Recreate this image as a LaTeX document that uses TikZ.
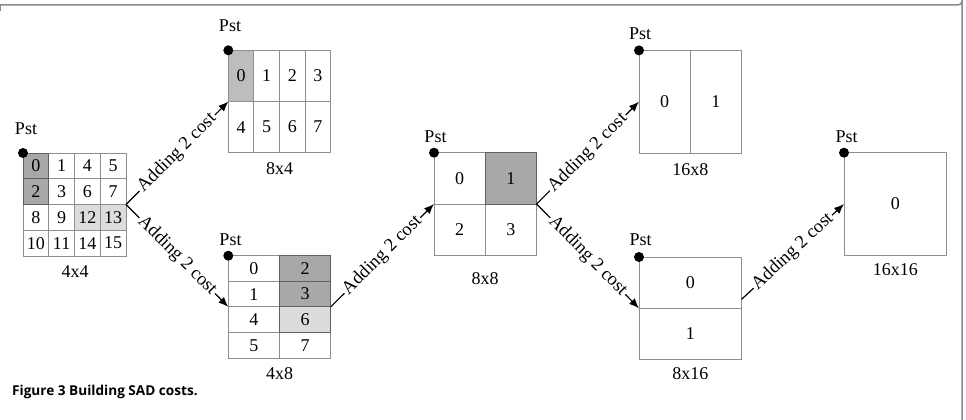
\documentclass[tikz,border=0pt]{standalone}
\usepackage{fontspec}
\setmainfont{Liberation Serif}
\newfontfamily\capfont{Open Sans}
\usetikzlibrary{arrows.meta}
\definecolor{gl}{HTML}{8E8E8E}
\definecolor{dk}{HTML}{A8A8A8}
\definecolor{dkl}{HTML}{BDBDBD}
\definecolor{lt}{HTML}{DCDCDC}
\definecolor{bd}{HTML}{606060}
\definecolor{fr}{HTML}{8A8A8A}
\begin{document}
\begin{tikzpicture}[x=1pt,y=-1pt,font=\fontsize{18}{20}\selectfont,
  cell/.style 2 args={draw=gl,line width=0.9pt,minimum width=#1pt,minimum height=#2pt,inner sep=0pt,outer sep=0pt},
  blk/.style={minimum width=#1pt,minimum height=#1pt,inner sep=0pt,outer sep=0pt},
  shd/.style={fill=#1,draw=bd},
  conn/.style={draw=black,line width=1.2pt,-{Latex[length=10pt,width=8pt]}},
  lab/.style={sloped,fill=white,inner sep=1.5pt,font=\fontsize{18.5}{20}\selectfont},
  pdot/.style={circle,fill=black,minimum size=10pt,inner sep=0pt},
  txt/.style={inner sep=0pt}]
\useasboundingbox (0,0) rectangle (966,420);
% frame
\draw[fr,line width=1.5pt] (0,11) -- (0,5) -- (958,5) arc[start angle=90,end angle=0,radius=4] -- (962,420);

% ---- 4x4 block
\node[blk=103] (b44) at (74.5,204.5) {};
\node[cell={25.75}{25.75}] (c44-1) at (61.625,165.875) {1};
\node[cell={25.75}{25.75}] (c44-4) at (87.375,165.875) {4};
\node[cell={25.75}{25.75}] (c44-5) at (113.125,165.875) {5};
\node[cell={25.75}{25.75}] (c44-3) at (61.625,191.625) {3};
\node[cell={25.75}{25.75}] (c44-6) at (87.375,191.625) {6};
\node[cell={25.75}{25.75}] (c44-7) at (113.125,191.625) {7};
\node[cell={25.75}{25.75}] (c44-8) at (35.875,217.375) {8};
\node[cell={25.75}{25.75}] (c44-9) at (61.625,217.375) {9};
\node[cell={25.75}{25.75}] (c44-10) at (35.875,243.125) {10};
\node[cell={25.75}{25.75}] (c44-11) at (61.625,243.125) {11};
\node[cell={25.75}{25.75}] (c44-14) at (87.375,243.125) {14};
\node[cell={25.75}{25.75}] (c44-15) at (113.125,243.125) {15};
\node[cell={25.75}{25.75},shd=lt,draw=gl] (c44-12) at (87.375,217.375) {12};
\node[cell={25.75}{25.75},shd=lt,draw=gl] (c44-13) at (113.125,217.375) {13};
\node[cell={25.75}{25.75},shd=dk] (c44-0) at (35.875,165.875) {0};
\node[cell={25.75}{25.75},shd=dk] (c44-2) at (35.875,191.625) {2};
\node[pdot] (d44) at (b44.north west) {};
\node[txt] (p44) at (26,129) {Pst};
\node[txt] (l44) at (75,271.5) {4x4};

% ---- 8x4 block
\node[blk=102.4] (b84) at (279.5,101.5) {};
\node[cell={25.6}{51.2}] (c84-1) at (266.7,75.9) {1};
\node[cell={25.6}{51.2}] (c84-2) at (292.3,75.9) {2};
\node[cell={25.6}{51.2}] (c84-3) at (317.9,75.9) {3};
\node[cell={25.6}{51.2}] (c84-4) at (241.1,127.1) {4};
\node[cell={25.6}{51.2}] (c84-5) at (266.7,127.1) {5};
\node[cell={25.6}{51.2}] (c84-6) at (292.3,127.1) {6};
\node[cell={25.6}{51.2}] (c84-7) at (317.9,127.1) {7};
\node[cell={25.6}{51.2},shd=dkl,draw=gl] (c84-0) at (241.1,75.9) {0};
\node[pdot] (d84) at (b84.north west) {};
\node[txt] (p84) at (230,26) {Pst};
\node[txt] (l84) at (279.5,169) {8x4};

% ---- 4x8 block
\node[blk=102.4] (b48) at (279.5,306.9) {};
\node[cell={51.2}{25.6}] (c48-0) at (253.9,268.5) {0};
\node[cell={51.2}{25.6}] (c48-1) at (253.9,294.1) {1};
\node[cell={51.2}{25.6}] (c48-4) at (253.9,319.7) {4};
\node[cell={51.2}{25.6}] (c48-5) at (253.9,345.3) {5};
\node[cell={51.2}{25.6}] (c48-7) at (305.1,345.3) {7};
\node[cell={51.2}{25.6},shd=lt] (c48-6) at (305.1,319.7) {6};
\node[cell={51.2}{25.6},shd=dk] (c48-2) at (305.1,268.5) {2};
\node[cell={51.2}{25.6},shd=dk] (c48-3) at (305.1,294.1) {3};
\node[pdot] (d48) at (b48.north west) {};
\node[txt] (p48) at (230.5,239.5) {Pst};
\node[txt] (l48) at (279.5,374) {4x8};

% ---- 8x8 block
\node[blk=102.6] (b88) at (485.3,204) {};
\node[cell={51.3}{51.3}] (c88-0) at (459.65,178.35) {0};
\node[cell={51.3}{51.3}] (c88-2) at (459.65,229.65) {2};
\node[cell={51.3}{51.3}] (c88-3) at (510.95,229.65) {3};
\node[cell={51.3}{51.3},shd=dk] (c88-1) at (510.95,178.35) {1};
\node[pdot] (d88) at (b88.north west) {};
\node[txt] (p88) at (435.5,137) {Pst};
\node[txt] (l88) at (485,279) {8x8};

% ---- 16x8 block
\node[blk=102.6] (b168) at (690.3,101.7) {};
\node[cell={51.3}{102.6}] (c168-0) at (664.65,101.7) {0};
\node[cell={51.3}{102.6}] (c168-1) at (715.95,101.7) {1};
\node[pdot] (d168) at (b168.north west) {};
\node[txt] (p168) at (640,34) {Pst};
\node[txt] (l168) at (690.3,169.5) {16x8};

% ---- 8x16 block
\node[blk=102.6] (b816) at (690.3,308.3) {};
\node[cell={102.6}{51.3}] (c816-0) at (690.3,282.65) {0};
\node[cell={102.6}{51.3}] (c816-1) at (690.3,333.95) {1};
\node[pdot] (d816) at (b816.north west) {};
\node[txt] (p816) at (640.5,239.5) {Pst};
\node[txt] (l816) at (690.3,374) {8x16};

% ---- 16x16 block
\node[cell={102.7}{102.7}] (b1616) at (895.35,204.05) {0};
\node[pdot] (d1616) at (b1616.north west) {};
\node[txt] (p1616) at (846.5,137) {Pst};
\node[txt] (l1616) at (895.35,270) {16x16};

% ---- connectors
\draw[conn] (b44.east) -- node[lab] {Adding 2 cost} (b84.west);
\draw[conn] (b44.east) -- node[lab] {Adding 2 cost} (b48.west);
\draw[conn] (b48.east) -- node[lab] {Adding 2 cost} (b88.west);
\draw[conn] (b88.east) -- node[lab] {Adding 2 cost} (b168.west);
\draw[conn] (b88.east) -- node[lab] {Adding 2 cost} (b816.west);
\draw[conn] ([yshift=9pt]b816.east) -- node[lab] {Adding 2 cost} (b1616.west);

% ---- caption
\node[txt,anchor=base west,font=\capfont\bfseries\fontsize{13.6}{16}\selectfont] (cap) at (12,395) {Figure 3 Building SAD costs.};
\end{tikzpicture}
\end{document}
